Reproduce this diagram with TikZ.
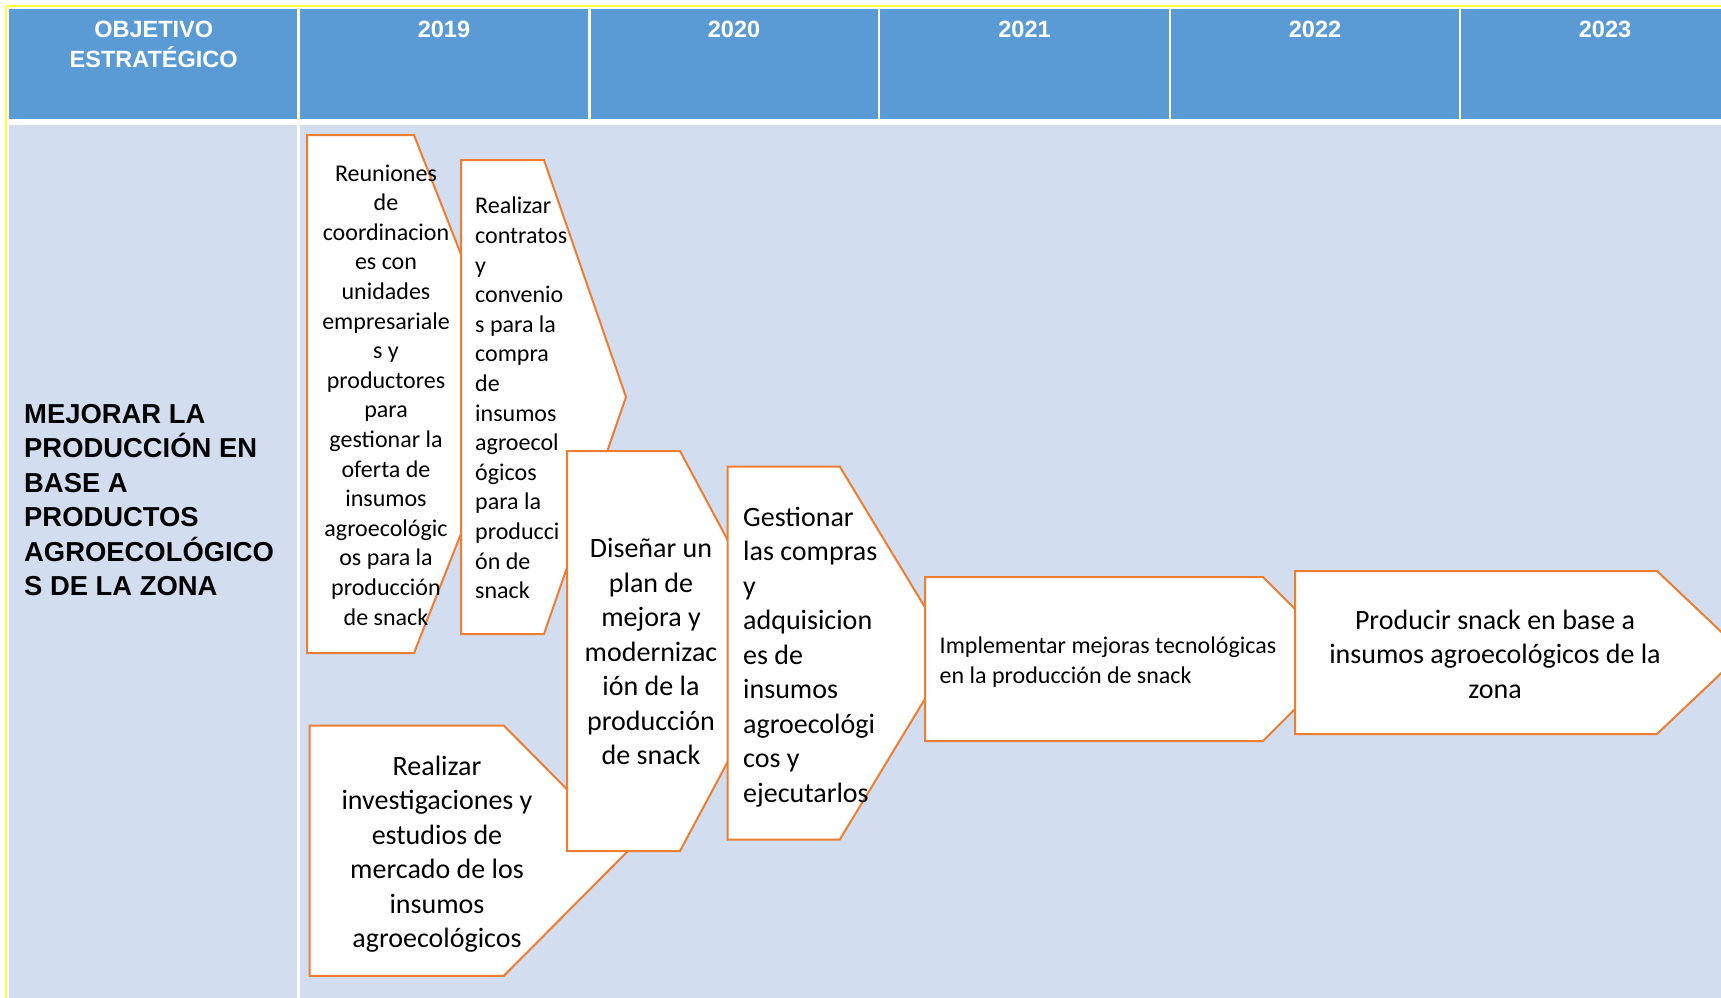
\documentclass[tikz,border=0pt]{standalone}
\usepackage{fontspec}
\setmainfont{Carlito}
\newfontfamily\hdfont{Liberation Sans}
\definecolor{hdblue}{HTML}{5B9BD5}
\definecolor{bodyblue}{HTML}{D2DEEF}
\definecolor{edgeorange}{HTML}{ED7D31}
\definecolor{bordery}{HTML}{FFFF40}
\begin{document}
\begin{tikzpicture}[x=1pt,y=-1pt,
  chevbox/.style={draw=edgeorange, fill=white, line width=2pt, line join=miter},
  smalltxt/.style={font=\fontsize{24}{29.6}\selectfont, inner sep=0pt},
  bigtxt/.style={font=\fontsize{28}{34.5}\selectfont, inner sep=0pt},
  hdtxt/.style={font=\hdfont\bfseries\fontsize{23.5}{29.7}\selectfont, text=white, align=center, inner sep=0pt},
  sep/.style={draw=white, line width=2.5pt}]
\useasboundingbox (0,0) rectangle (1721,998);
\clip (0,0) rectangle (1721,998);
\fill[white] (0,0) rectangle (1721,998);
% border lines
\draw[bordery, line width=1.5pt] (6,6) -- (1721,6);
\draw[bordery, line width=1.5pt] (6,6) -- (6,998);
% header
\fill[hdblue] (9,9) rectangle (1721,118.5);
\fill[bodyblue] (9,125) rectangle (1721,998);
\foreach \xx in {298.5,589.4,879.2,1170,1459.8}
  \draw[sep] (\xx,9) -- (\xx,118.5);
\draw[sep] (298.5,125) -- (298.5,998);
\node[hdtxt] (hobj) at (153.7,44.5) {OBJETIVO\\ESTRATÉGICO};
\node[hdtxt] (h2019) at (444,29.6) {2019};
\node[hdtxt] (h2020) at (734,29.6) {2020};
\node[hdtxt] (h2021) at (1024.5,29.6) {2021};
\node[hdtxt] (h2022) at (1315,29.6) {2022};
\node[hdtxt] (h2023) at (1605,29.6) {2023};
% objective
\node[font=\hdfont\bfseries\fontsize{27.4}{34.5}\selectfont, align=left, anchor=west, inner sep=0pt] (obj) at (24,500)
  {MEJORAR LA\\PRODUCCIÓN EN\\BASE A\\PRODUCTOS\\AGROECOLÓGICO\\S DE LA ZONA};
% shape 1
\draw[chevbox] (307,135) -- (414,135) -- (516,394) -- (414,653) -- (307,653) -- cycle;
\node[smalltxt, align=center] (s1) at (386,395)
  {Reuniones\\de\\coordinacion\\es con\\unidades\\empresariale\\s y\\productores\\para\\gestionar la\\oferta de\\insumos\\agroecológic\\os para la\\producción\\de snack};
% shape 2
\draw[chevbox] (461,160) -- (544,160) -- (626,397) -- (544,634) -- (461,634) -- cycle;
\node[smalltxt, align=left, anchor=west] (s2) at (475,398)
  {Realizar\\contratos\\y\\convenio\\s para la\\compra\\de\\insumos\\agroecol\\ógicos\\para la\\producci\\ón de\\snack};
% shape 5
\draw[chevbox] (309.5,725.5) -- (503.8,725.5) -- (628,851) -- (503.8,975.8) -- (309.5,975.8) -- cycle;
\node[bigtxt, align=center] (s5) at (437,854)
  {Realizar\\investigaciones y\\estudios de\\mercado de los\\insumos\\agroecológicos};
% shape 3
\draw[chevbox] (567,451) -- (680,451) -- (787,651) -- (680,851) -- (567,851) -- cycle;
\node[bigtxt, align=center] (s3) at (651,651.5)
  {Diseñar un\\plan de\\mejora y\\modernizac\\ión de la\\producción\\de snack};
% shape 4
\draw[chevbox] (727.7,466.5) -- (839.7,466.5) -- (952.7,653) -- (839.7,839.7) -- (727.7,839.7) -- cycle;
\node[bigtxt, align=left, anchor=west] (s4) at (743,657)
  {Gestionar\\las compras\\y\\adquisicion\\es de\\insumos\\agroecológi\\cos y\\ejecutarlos};
% shape 6
\draw[chevbox] (925,577) -- (1263,577) -- (1345,659) -- (1263,741) -- (925,741) -- cycle;
\node[smalltxt, align=left, anchor=west] (s6) at (939.5,662)
  {Implementar mejoras tecnológicas\\en la producción de snack};
% shape 7
\draw[chevbox] (1295,571) -- (1657,571) -- (1743,652.5) -- (1657,734) -- (1295,734) -- cycle;
\node[bigtxt, align=center] (s7) at (1495,654)
  {Producir snack en base a\\insumos agroecológicos de la\\zona};
\end{tikzpicture}
\end{document}
